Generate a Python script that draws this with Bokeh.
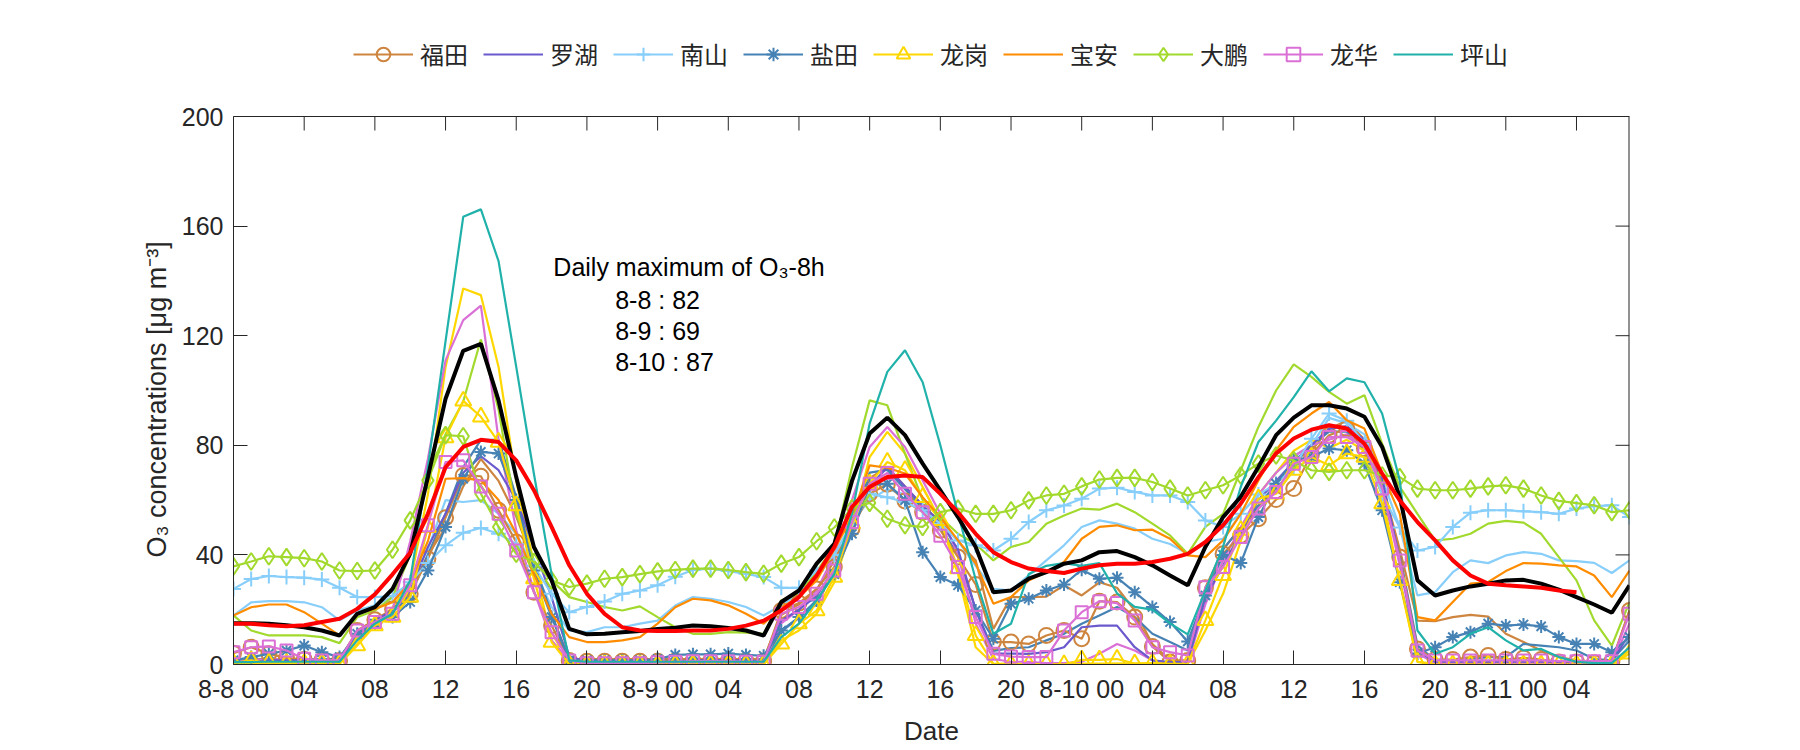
from bokeh.plotting import figure
from bokeh.models import Legend, LegendItem, FixedTicker, Range1d, Label, Span, Title
from bokeh.embed import file_html
from bokeh.resources import INLINE

hours = list(range(80))

tick_pos = list(range(0, 77, 4))
tick_labels = ["8-8 00", "04", "08", "12", "16", "20",
               "8-9 00", "04", "08", "12", "16", "20",
               "8-10 00", "04", "08", "12", "16", "20",
               "8-11 00", "04"]
y_ticks = [0, 40, 80, 120, 160, 200]

# ---- stations shown in the legend ----
futian = [4.1, 6.3, 3.9, 2.4, 1.8, 1.5, 1.5, 12.4, 16.3, 20.3, 25.8, 38.6,
          53.6, 69.0, 68.7, 56.3, 44.7, 26.4, 14.2, 1.5, 1.2, 1.2, 1.2, 1.2,
          1.2, 1.3, 1.3, 1.3, 1.3, 1.3, 1.3, 19.7, 22.4, 27.6, 35.6, 49.6,
          62.3, 65.8, 59.7, 55.6, 49.0, 39.2, 29.2, 8.2, 8.2, 7.5, 10.6, 12.4,
          9.4, 23.1, 22.8, 17.3, 6.6, 0.9, 1.5, 28.0, 40.4, 47.1, 53.2, 60.2,
          64.2, 76.7, 83.7, 86.1, 78.8, 63.8, 39.2, 5.7, 1.8, 1.8, 2.7, 3.3,
          1.8, 2.4, 1.8, 0.9, 0.9, 0.6, 1.2, 19.7]
luohu = [1.0, 1.0, 1.5, 1.5, 1.5, 1.0, 1.0, 11.2, 16.0, 19.7, 27.0, 42.9,
         55.0, 70.0, 76.0, 70.9, 60.0, 42.9, 24.6, 3.0, 1.0, 1.0, 1.0, 1.0,
         1.0, 1.0, 1.5, 1.5, 1.5, 1.5, 1.0, 16.0, 20.0, 25.0, 35.0, 52.0,
         65.0, 72.0, 65.0, 58.0, 52.0, 42.0, 20.0, 4.0, 4.0, 3.9, 4.5, 6.3,
         13.6, 14.2, 14.2, 6.3, 1.5, 0.9, 0.9, 24.6, 36.0, 48.0, 60.0, 67.0,
         74.0, 80.0, 86.0, 87.0, 82.0, 68.0, 38.0, 5.0, 1.0, 1.0, 1.0, 1.0,
         1.0, 1.0, 1.0, 1.0, 1.0, 1.0, 1.0, 11.2]
nanshan = [27.6, 31.2, 32.3, 31.9, 31.7, 31.0, 28.0, 24.6, 24.6, 25.0, 30.0, 37.0,
           43.5, 48.1, 49.8, 47.7, 44.0, 36.0, 25.8, 19.1, 21.0, 23.0, 25.8, 27.0,
           28.9, 32.0, 34.5, 35.0, 34.1, 33.1, 31.9, 28.0, 28.0, 34.3, 40.0, 51.0,
           62.3, 61.0, 59.3, 56.3, 51.4, 45.3, 43.5, 41.6, 45.9, 52.0, 56.3, 58.0,
           60.5, 64.2, 64.5, 63.0, 61.7, 61.7, 59.3, 52.6, 50.2, 55.0, 62.0, 66.0,
           72.0, 82.4, 91.6, 89.0, 80.6, 62.0, 50.0, 41.6, 42.9, 50.2, 55.4, 56.3,
           56.3, 55.9, 55.6, 55.0, 56.9, 57.8, 58.1, 53.8]
yantian = [1.5, 2.7, 3.9, 5.1, 6.9, 4.5, 2.7, 11.2, 14.9, 17.3, 22.8, 34.3,
           50.2, 67.8, 77.6, 77.0, 60.0, 34.3, 17.3, 1.5, 1.5, 1.5, 1.5, 1.5,
           2.0, 3.5, 3.7, 3.7, 4.0, 3.5, 3.2, 12.4, 17.3, 23.4, 33.0, 47.7,
           65.4, 66.0, 60.0, 41.0, 31.9, 28.9, 19.7, 9.4, 22.2, 24.0, 27.0, 29.2,
           34.6, 31.3, 31.7, 26.4, 21.0, 15.5, 8.4, 25.2, 40.0, 37.0, 53.8, 66.0,
           74.5, 75.7, 78.8, 78.2, 73.3, 56.3, 30.0, 4.0, 6.3, 10.0, 11.8, 14.9,
           14.2, 14.6, 13.9, 10.0, 7.5, 7.5, 4.5, 10.0]
longgang = [0.5, 1.5, 0.6, 0.5, 0.5, 0.5, 0.2, 6.9, 14.2, 17.3, 24.6, 50.0,
            82.8, 96.2, 90.4, 81.2, 58.0, 31.3, 8.2, 0.0, 0.0, 0.0, 0.0, 0.0,
            0.0, 0.0, 0.0, 0.0, 0.0, 0.0, 0.0, 7.5, 14.9, 19.7, 31.9, 51.4,
            66.0, 73.9, 70.9, 61.0, 52.6, 35.0, 10.6, 0.2, 0.0, 0.0, 0.2, 0.0,
            1.7, 1.7, 2.0, 0.3, 0.5, 0.2, 0.2, 16.1, 32.5, 49.0, 60.5, 62.3,
            70.9, 75.7, 72.7, 77.0, 75.7, 58.7, 30.7, 0.9, 0.0, 0.0, 0.0, 0.0,
            0.0, 0.0, 0.0, 0.0, 0.0, 0.0, 0.0, 3.9]
baoan = [17.9, 20.9, 21.9, 21.9, 19.1, 14.9, 10.6, 18.5, 20.3, 22.7, 30.0, 45.0,
         67.8, 68.0, 67.2, 60.0, 47.7, 33.0, 18.5, 10.0, 8.2, 8.2, 8.8, 10.0,
         14.9, 20.9, 24.0, 23.4, 21.6, 18.5, 14.9, 20.9, 24.6, 30.7, 42.0, 53.8,
         72.7, 71.8, 69.7, 61.0, 53.8, 45.3, 36.8, 22.2, 24.6, 30.7, 33.7, 37.4,
         45.9, 50.2, 50.8, 49.0, 49.2, 45.9, 39.8, 39.2, 45.3, 55.0, 67.2, 78.2,
         86.7, 91.6, 95.8, 89.1, 86.1, 69.7, 55.0, 17.3, 16.1, 22.8, 29.5, 30.1,
         34.1, 37.0, 36.8, 36.2, 35.8, 32.5, 24.6, 34.3]
dapeng = [35.8, 37.6, 39.5, 39.2, 38.8, 37.6, 34.3, 34.1, 34.3, 41.9, 52.6, 67.2,
          83.7, 83.3, 62.3, 50.2, 40.4, 37.4, 30.7, 28.3, 29.5, 31.3, 31.9, 33.0,
          34.0, 34.5, 35.0, 35.0, 34.5, 33.7, 33.1, 36.8, 39.2, 45.0, 50.0, 57.0,
          59.0, 53.2, 50.8, 50.2, 55.6, 56.9, 55.0, 55.0, 56.3, 59.9, 61.7, 62.3,
          65.0, 67.5, 68.1, 68.1, 66.6, 64.2, 61.7, 63.6, 65.4, 69.0, 73.3, 76.3,
          74.5, 70.9, 70.3, 70.9, 70.9, 69.0, 68.4, 64.2, 63.6, 63.6, 64.2, 65.0,
          65.4, 64.2, 61.7, 59.7, 58.9, 58.1, 55.6, 56.3]
longhua = [4.5, 6.3, 6.6, 5.1, 2.1, 1.5, 1.5, 12.4, 15.5, 18.5, 28.9, 50.8,
           73.9, 74.5, 65.0, 55.0, 41.6, 26.4, 11.8, 1.5, 0.5, 0.5, 0.5, 0.5,
           0.8, 1.0, 1.2, 1.2, 1.2, 1.0, 1.0, 18.5, 21.0, 25.8, 34.3, 52.0,
           66.0, 69.9, 62.3, 55.6, 47.0, 35.6, 17.3, 3.9, 2.9, 2.7, 2.7, 12.4,
           19.1, 23.1, 22.4, 16.1, 6.3, 4.5, 3.3, 28.2, 35.6, 46.5, 56.9, 63.0,
           73.3, 75.7, 83.0, 83.0, 79.4, 64.2, 38.0, 5.1, 1.5, 1.5, 1.5, 1.5,
           1.5, 1.5, 1.5, 1.2, 1.2, 1.2, 1.2, 18.5]
pingshan = [0.9, 0.9, 1.0, 1.0, 1.0, 1.0, 1.0, 8.8, 14.9, 18.5, 30.7, 72.0,
            118.0, 163.4, 166.1, 147.2, 108.6, 69.6, 33.0, 1.5, 1.0, 1.0, 1.0, 1.0,
            1.0, 1.0, 1.0, 1.0, 1.0, 1.0, 1.0, 10.0, 14.9, 23.4, 33.0, 55.0,
            88.0, 106.8, 114.7, 103.0, 80.0, 55.0, 31.0, 11.2, 14.9, 33.0, 36.0, 37.0,
            36.0, 37.0, 26.0, 21.0, 20.0, 15.0, 11.0, 27.0, 43.0, 64.8, 81.2, 89.0,
            97.6, 107.0, 99.7, 104.4, 103.0, 91.6, 67.2, 12.4, 3.9, 6.3, 11.2, 13.6,
            8.8, 5.1, 5.7, 2.7, 1.0, 0.5, 0.5, 6.3]

# ---- unlabelled companion lines (same colours, no markers) ----
futian_b = [2.0, 2.0, 2.0, 2.0, 2.0, 2.0, 2.0, 12.0, 16.0, 20.0, 27.0, 40.0,
            50.0, 65.0, 75.0, 67.0, 54.0, 37.0, 18.0, 2.0, 2.0, 2.0, 2.0, 2.0,
            2.0, 2.0, 2.0, 2.0, 2.0, 2.0, 2.0, 18.0, 22.0, 27.0, 38.0, 52.0,
            68.0, 72.0, 65.0, 58.0, 52.0, 45.0, 38.0, 13.0, 24.6, 24.6, 24.8, 28.9,
            25.2, 30.0, 28.0, 19.7, 7.5, 1.5, 1.5, 28.0, 42.0, 50.0, 58.0, 64.0,
            72.0, 78.0, 86.0, 89.0, 82.0, 66.0, 42.0, 16.0, 15.8, 17.3, 18.1, 17.5,
            11.2, 8.2, 5.1, 2.7, 1.5, 1.0, 1.0, 19.7]
nanshan_b = [17.9, 22.7, 23.1, 23.1, 22.7, 20.9, 16.1, 19.7, 21.6, 24.6, 30.0, 42.0,
             60.0, 59.3, 60.0, 55.0, 47.7, 35.0, 21.0, 12.4, 11.8, 13.6, 13.6, 14.9,
             16.0, 21.5, 24.6, 24.0, 22.8, 21.0, 17.9, 21.6, 25.8, 32.0, 40.0, 52.0,
             60.0, 64.0, 62.0, 57.0, 52.0, 45.0, 36.0, 27.6, 27.0, 32.5, 38.0, 43.5,
             50.2, 52.6, 51.4, 49.6, 45.9, 44.0, 40.4, 44.7, 45.9, 55.0, 62.0, 70.0,
             76.0, 80.0, 90.0, 88.0, 84.0, 68.0, 50.0, 25.2, 26.4, 33.7, 38.0, 37.0,
             39.8, 41.0, 40.4, 38.0, 37.7, 37.1, 33.4, 38.0]
yantian_b = [1.0, 1.5, 2.0, 2.0, 2.0, 2.0, 2.0, 10.0, 15.0, 19.0, 25.0, 40.0,
             55.0, 72.0, 82.0, 82.0, 61.0, 37.0, 18.5, 1.5, 1.5, 1.5, 1.5, 1.5,
             1.5, 1.5, 1.5, 1.5, 1.5, 1.5, 1.5, 12.0, 17.0, 22.0, 35.0, 52.0,
             70.0, 71.0, 64.0, 57.0, 50.0, 40.0, 20.0, 5.0, 6.0, 6.3, 8.8, 11.2,
             14.9, 17.9, 21.0, 17.3, 11.2, 8.2, 5.1, 27.0, 42.0, 50.0, 58.0, 66.0,
             73.0, 80.0, 85.0, 85.0, 78.0, 62.0, 40.0, 7.0, 1.5, 1.5, 2.0, 2.7,
             2.7, 7.5, 6.9, 6.3, 5.1, 2.0, 1.5, 8.8]
longgang_b = [0.5, 0.5, 0.5, 0.5, 0.5, 0.5, 0.5, 7.5, 14.9, 20.9, 30.0, 62.0,
              108.6, 137.2, 134.8, 108.6, 67.0, 36.8, 8.8, 0.3, 0.2, 0.2, 0.2, 0.2,
              0.2, 0.2, 0.2, 0.2, 0.2, 0.2, 0.2, 8.8, 12.4, 18.5, 30.0, 50.0,
              75.7, 84.9, 77.0, 64.8, 52.6, 33.0, 6.3, 0.2, 0.3, 0.3, 0.3, 0.3,
              0.3, 0.3, 0.3, 0.3, 0.3, 0.3, 0.3, 12.4, 25.8, 45.0, 62.0, 70.0,
              78.0, 82.0, 79.0, 82.0, 78.0, 62.0, 30.0, 1.0, 0.2, 0.2, 0.2, 0.2,
              0.2, 0.2, 0.2, 0.2, 0.2, 0.2, 0.2, 5.0]
dapeng_b = [17.9, 12.4, 10.6, 10.6, 10.6, 10.0, 7.8, 17.3, 19.7, 24.6, 40.0, 70.0,
            84.0, 96.0, 118.6, 93.0, 55.0, 38.0, 30.7, 24.6, 22.8, 21.0, 19.7, 21.2,
            17.3, 13.6, 11.2, 11.2, 11.8, 11.6, 11.2, 23.4, 25.8, 34.0, 43.0, 72.0,
            96.4, 94.6, 77.0, 60.0, 53.8, 47.7, 44.0, 38.0, 42.9, 44.7, 51.4, 54.4,
            56.9, 56.5, 58.7, 55.6, 51.4, 47.1, 40.4, 50.2, 55.0, 70.9, 86.7, 100.0,
            109.5, 105.0, 99.5, 95.2, 98.3, 80.6, 64.8, 55.0, 45.3, 45.9, 47.7, 51.4,
            52.4, 51.8, 47.7, 39.2, 30.7, 16.1, 6.9, 22.8]
longhua_b = [1.0, 1.5, 2.0, 2.0, 1.5, 1.0, 1.0, 10.0, 15.0, 20.0, 45.0, 75.0,
             111.0, 125.7, 131.0, 82.0, 49.0, 27.0, 8.8, 1.5, 0.5, 0.5, 0.5, 0.5,
             0.5, 0.5, 0.5, 0.5, 0.5, 0.5, 0.5, 15.0, 20.0, 27.0, 40.0, 60.0,
             79.4, 86.7, 79.4, 67.2, 55.0, 40.0, 15.0, 2.0, 1.0, 1.0, 0.5, 0.5,
             1.0, 3.9, 7.5, 5.1, 1.5, 0.5, 0.5, 22.0, 38.0, 50.0, 62.0, 70.0,
             76.0, 80.0, 82.0, 84.0, 80.0, 65.0, 36.0, 4.0, 0.5, 0.5, 0.5, 0.5,
             0.5, 0.5, 0.5, 0.5, 0.5, 0.5, 0.5, 15.0]

# ---- city mean (black) and 8-h running mean (red) ----
city_mean = [15.1, 15.1, 14.9, 14.3, 13.6, 12.4, 10.6, 18.5, 20.9, 27.6, 40.5, 68.4,
             97.0, 114.5, 117.0, 96.4, 68.4, 42.9, 30.7, 13.0, 11.0, 11.2, 11.8, 12.2,
             13.0, 13.4, 14.2, 14.0, 13.3, 12.4, 10.6, 22.8, 27.0, 36.8, 44.0, 67.0,
             84.3, 90.1, 83.7, 73.3, 63.6, 53.8, 42.9, 26.4, 27.0, 31.3, 33.7, 36.8,
             38.0, 41.0, 41.4, 39.2, 36.2, 32.5, 28.9, 42.9, 53.8, 61.2, 72.1, 83.7,
             90.1, 94.6, 94.6, 93.4, 90.4, 79.4, 61.2, 30.7, 25.2, 27.0, 28.5, 29.5,
             30.7, 30.9, 29.5, 27.3, 24.6, 21.9, 18.9, 28.9]
o3_8h = [14.9, 14.9, 14.3, 14.0, 14.3, 15.5, 16.7, 20.3, 25.6, 32.9, 40.8, 55.0,
         72.0, 79.4, 82.0, 81.2, 74.5, 63.6, 50.2, 36.2, 25.8, 18.5, 13.6, 12.4,
         12.2, 12.2, 12.4, 12.4, 13.0, 14.2, 16.0, 19.7, 24.6, 32.5, 42.9, 57.5,
         64.8, 68.4, 69.0, 68.4, 62.3, 55.6, 47.7, 41.0, 37.4, 35.0, 34.1, 33.4,
         35.0, 36.2, 36.8, 36.8, 37.4, 38.6, 40.4, 44.7, 50.8, 58.7, 68.4, 77.0,
         82.5, 85.7, 87.3, 86.1, 80.6, 69.7, 59.9, 52.0, 45.3, 38.0, 32.5, 29.5,
         28.9, 28.5, 28.0, 27.0, 26.4]
o3_8h_hours = hours[:len(o3_8h)]

names = ["福田", "罗湖", "南山", "盐田", "龙岗", "宝安", "大鹏", "龙华", "坪山"]
series = [futian, luohu, nanshan, yantian, longgang, baoan, dapeng, longhua, pingshan]
colors = ["#CD853F", "#6A5ACD", "#87CEFA", "#4682B4", "#FFD700",
          "#FF8C00", "#A2D92D", "#DA70D6", "#20B2AA"]
markers = ["circle", None, "cross", "asterisk", "triangle", None, "diamond", "square", None]
msizes = [15, 0, 15, 13, 16, 0, 17, 12, 0]

extra = [(futian_b, colors[0]), (nanshan_b, colors[2]), (yantian_b, colors[3]),
         (longgang_b, colors[4]), (dapeng_b, colors[6]), (longhua_b, colors[7])]

AX = "#262626"
FONT = "Liberation Sans"
X0, X1, Y0, Y1 = 0, 79, 0, 200
FRAME_W = 1396                 # plot box width in px
BOX_H = 548                    # plot box height in px (value 0 .. 200)
TOP_PX = 116                   # room above the box (legend lives there)
Y_TOP = Y1 + TOP_PX * (Y1 - Y0) / BOX_H
TICK_PX = 14

p = figure(width=1800, height=750, output_backend="svg", toolbar_location=None,
           x_range=Range1d(X0, X1), y_range=Range1d(Y0, Y_TOP),
           min_border_left=233, min_border_right=171,
           min_border_top=0, min_border_bottom=86)
p.xgrid.visible = False
p.ygrid.visible = False
p.outline_line_color = None
p.background_fill_color = "white"
p.border_fill_color = "white"

for vals, col in extra:
    p.line(hours, vals, line_color=col, line_width=2.2)

items = []
for name, vals, col, mk, ms in zip(names, series, colors, markers, msizes):
    r = [p.line(hours, vals, line_color=col, line_width=2.2)]
    if mk is not None:
        r.append(p.scatter(hours, vals, marker=mk, size=ms, line_color=col,
                           fill_alpha=0, line_width=2))
    items.append(LegendItem(label=name, renderers=r))

p.line(hours, city_mean, line_color="black", line_width=4)
p.line(o3_8h_hours, o3_8h, line_color="#FF0000", line_width=4)

# box: top edge, right edge, and inward ticks on them
p.add_layout(Span(location=Y1, dimension="width", line_color=AX, line_width=1))
p.segment(x0=[X1], y0=[Y0], x1=[X1], y1=[Y1], line_color=AX, line_width=2)
ty = TICK_PX * (Y1 - Y0) / BOX_H
tx = TICK_PX * (X1 - X0) / FRAME_W
p.segment(x0=tick_pos, y0=[Y1] * len(tick_pos), x1=tick_pos, y1=[Y1 - ty] * len(tick_pos),
          line_color=AX, line_width=1)
p.segment(x0=[X1] * len(y_ticks), y0=y_ticks, x1=[X1 - tx] * len(y_ticks), y1=y_ticks,
          line_color=AX, line_width=1)

# axes
for ax in (p.xaxis[0], p.yaxis[0]):
    ax.major_tick_in = TICK_PX
    ax.major_tick_out = 0
    ax.minor_tick_line_color = None
    ax.axis_line_color = AX
    ax.major_tick_line_color = AX
    ax.major_label_text_color = AX
    ax.major_label_text_font = FONT
    ax.major_label_text_font_size = "25px"
    ax.axis_label_text_font = FONT
    ax.axis_label_text_font_size = "26px"
    ax.axis_label_text_font_style = "normal"
    ax.axis_label_text_color = AX

p.xaxis.ticker = FixedTicker(ticks=tick_pos)
p.xaxis.major_label_overrides = {t: lab for t, lab in zip(tick_pos, tick_labels)}
p.xaxis.axis_label = "Date"
p.xaxis.major_label_standoff = 10
p.xaxis.axis_label_standoff = 10

p.yaxis.ticker = FixedTicker(ticks=y_ticks)
p.yaxis.bounds = (Y0, Y1)
p.yaxis.major_label_standoff = 10

# y-axis title, anchored so that it is centred on the 0..200 box
ytitle = Title(text="O₃ concentrations [μg m⁻³]", align="left", offset=107,
               text_font=FONT, text_font_size="27px", text_font_style="normal",
               text_color=AX, standoff=14)
p.add_layout(ytitle, "left")

legend = Legend(items=items, orientation="horizontal", location=(120, 593),
                glyph_width=60, glyph_height=34, label_standoff=7, spacing=15,
                padding=0, margin=0, border_line_alpha=0, background_fill_alpha=0,
                label_text_font="Noto Sans CJK SC", label_text_font_size="24px",
                label_text_color=AX)
p.add_layout(legend, "center")

# annotation
ann = [("Daily maximum of O₃-8h", 18.1, 145.0),
       ("8-8 : 82", 21.6, 133.0),
       ("8-9 : 69", 21.6, 121.6),
       ("8-10 : 87", 21.6, 110.3)]
for txt, x, y in ann:
    p.add_layout(Label(x=x, y=y, text=txt, text_font=FONT, text_font_size="25px",
                       text_color="black", text_baseline="middle", text_align="left"))

open("out.html", "w").write(file_html(p, INLINE))
